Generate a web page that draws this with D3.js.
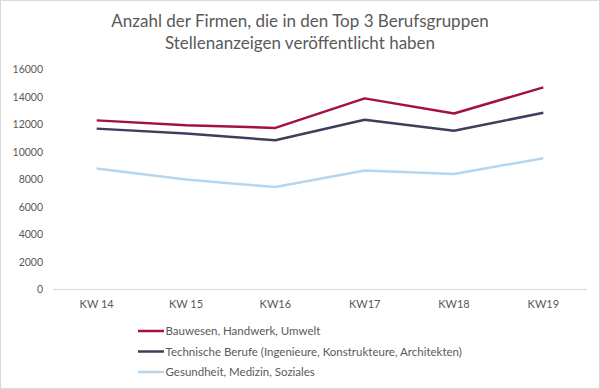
<!DOCTYPE html>
<html>
<head>
<meta charset="utf-8">
<script src="https://cdnjs.cloudflare.com/ajax/libs/d3/7.8.5/d3.min.js"></script>
<style>
  body { margin: 0; background: #fff; }
  text { font-family: Lato, "Open Sans", sans-serif; fill: #595959; }
</style>
</head>
<body>
<script>
// chart data
var weeks = ['KW 14', 'KW 15', 'KW16', 'KW17', 'KW18', 'KW19'];
var bauwesen = [12300, 11950, 11750, 13900, 12800, 14700];
var technik = [11700, 11350, 10850, 12350, 11550, 12850];
var gesundheit = [8800, 8000, 7450, 8650, 8400, 9550];
var seriesNames = ['Bauwesen, Handwerk, Umwelt',
  'Technische Berufe (Ingenieure, Konstrukteure, Architekten)',
  'Gesundheit, Medizin, Soziales'];
var yTicks = [0, 2000, 4000, 6000, 8000, 10000, 12000, 14000, 16000];
var titleLines = ['Anzahl der Firmen, die in den Top 3 Berufsgruppen',
  'Stellenanzeigen veröffentlicht haben'];

var colors = ['#A3123E', '#413D5E', '#B5D6EE'];
var allSeries = [bauwesen, technik, gesundheit];

var svgWidth = 600, svgHeight = 389;
var svg = d3.select('body').append('svg').attr('width', svgWidth).attr('height', svgHeight);

svg.append('rect').attr('x', 0.5).attr('y', 0.5)
   .attr('width', svgWidth - 1).attr('height', svgHeight - 1)
   .attr('fill', '#fff').attr('stroke', '#d9d9d9');

// title
svg.append('text').attr('x', 300).attr('y', 27).attr('text-anchor', 'middle')
   .style('font-size', '17px').text(titleLines[0]);
svg.append('text').attr('x', 300).attr('y', 49).attr('text-anchor', 'middle')
   .style('font-size', '17px').text(titleLines[1]);

var y = d3.scaleLinear().domain([0, 16000]).range([289.5, 69.5]);
var x = d3.scaleBand().domain(weeks).range([52, 588]);

// y axis labels
svg.append('g').attr('transform', 'translate(43,0)')
   .call(d3.axisLeft(y).tickValues(yTicks).tickSize(0).tickPadding(0).tickFormat(d3.format('d')))
   .call(function (g) { g.select('.domain').remove(); })
   .selectAll('text').style('font-size', '10.5px').style('fill', '#595959')
   .style('font-family', 'Lato, sans-serif');

// baseline
svg.append('line').attr('x1', 53).attr('x2', 587)
   .attr('y1', y(0)).attr('y2', y(0)).attr('stroke', '#d9d9d9');

// x axis labels
svg.append('g').attr('transform', 'translate(0,' + y(0) + ')')
   .call(d3.axisBottom(x).tickSize(0).tickPadding(11))
   .call(function (g) { g.select('.domain').remove(); })
   .selectAll('text').style('font-size', '11px').style('fill', '#595959')
   .style('font-family', 'Lato, sans-serif');

var line = d3.line()
   .x(function (d, i) { return x(weeks[i]) + x.bandwidth() / 2; })
   .y(function (d) { return y(d); });

svg.selectAll('path.series')
   .data(allSeries)
   .enter()
   .append('path')
   .attr('class', 'series')
   .attr('d', line)
   .attr('fill', 'none')
   .attr('stroke', function (d, i) { return colors[i]; })
   .attr('stroke-width', 2.5)
   .attr('stroke-linejoin', 'round');

// legend
var legend = svg.selectAll('g.legend')
   .data(seriesNames)
   .enter()
   .append('g')
   .attr('class', 'legend')
   .attr('transform', function (d, i) { return 'translate(138,' + (331 + i * 20.5) + ')'; });

legend.append('line').attr('x1', 0).attr('x2', 26)
   .attr('stroke', function (d, i) { return colors[i]; })
   .attr('stroke-width', 2.5);
legend.append('text').attr('x', 27.5).attr('dy', '0.35em')
   .style('font-size', '11.5px').text(function (d) { return d; });
</script>
</body>
</html>
